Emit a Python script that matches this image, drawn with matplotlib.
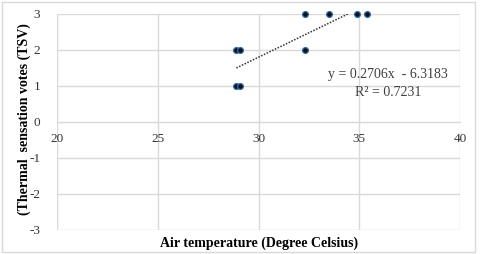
import matplotlib
matplotlib.use("Agg")
import matplotlib.pyplot as plt
from matplotlib.patches import Rectangle

# readings
air_temp = [28.9, 29.1, 28.9, 29.1, 32.3, 32.3, 33.5, 34.9, 35.4]
tsv = [2, 2, 1, 1, 3, 2, 3, 3, 3]
x_ticks = [20, 25, 30, 35, 40]
y_ticks = [-3, -2, -1, 0, 1, 2, 3]
slope, intercept, r2 = 0.2706, -6.3183, 0.7231

plt.rcParams["font.family"] = ["Liberation Serif", "DejaVu Serif"]
plt.rcParams["axes.unicode_minus"] = False
GRID = "#d9d9d9"

fig = plt.figure(figsize=(4.8, 2.54), dpi=100)
ax = fig.add_axes([0.1188, 0.0945, 0.8395, 0.8504])

ax.set_xlim(20, 40)
ax.set_ylim(-3, 3)
ax.set_xticks(x_ticks)
ax.set_yticks(y_ticks)
ax.grid(True, color=GRID, linewidth=1)
ax.set_axisbelow(True)

for s in ["top", "right", "left"]:
    ax.spines[s].set_visible(False)
ax.spines["bottom"].set_position(("data", 0))
ax.spines["bottom"].set_color(GRID)
ax.tick_params(length=0, labelsize=9.5, colors="#333333")
ax.tick_params(axis="y", pad=12)
ax.tick_params(axis="x", pad=8)

# trendline
xs = [min(air_temp), max(air_temp)]
ax.plot(xs, [slope * v + intercept for v in xs], linestyle=(0, (1, 1)),
        color="#333333", linewidth=1.1, zorder=3)

ax.plot(air_temp, tsv, linestyle="none", marker="o", markersize=4.2,
        markerfacecolor="#111111", markeredgecolor="#2f6db5",
        markeredgewidth=0.9, zorder=4, clip_on=False)

ax.text(0.822, 0.718, f"y = {slope}x  - {abs(intercept)}", transform=ax.transAxes,
        ha="center", va="center", fontsize=10, color="#404040")
ax.text(0.822, 0.638, f"R² = {r2}", transform=ax.transAxes,
        ha="center", va="center", fontsize=10, color="#404040")

fig.text(0.05, 0.53, "(Thermal  sensation votes (TSV)", rotation=90,
         ha="center", va="center", fontsize=10, fontweight="bold")
fig.text(0.539, 0.043, "Air temperature (Degree Celsius)",
         ha="center", va="center", fontsize=10, fontweight="bold")

fig.patches.append(Rectangle((0.004, 0.006), 0.986, 0.988, transform=fig.transFigure,
                             fill=False, edgecolor=GRID, linewidth=1))

fig.savefig("out.png", dpi=100)
